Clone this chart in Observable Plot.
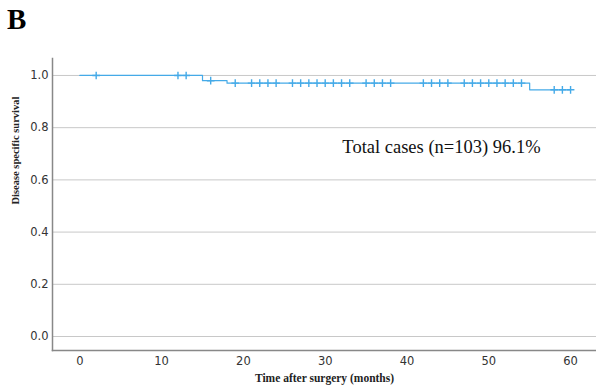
<!DOCTYPE html>
<html>
<head>
<meta charset="utf-8">
<script src="https://cdn.jsdelivr.net/npm/d3@7"></script>
<script src="https://cdn.jsdelivr.net/npm/@observablehq/plot@0.6"></script>
<style>
  html, body { margin: 0; padding: 0; background: #fff; }
  #wrap { position: relative; width: 596px; height: 392px; }
  #panel { position: absolute; left: 7px; top: 0px; font-family: "Liberation Serif", serif; font-weight: bold; font-size: 29px; line-height: 1; padding-top: 5px; color: #000; z-index: 2; }
</style>
</head>
<body>
<div id="wrap"><div id="panel">B</div></div>
<script>
// Kaplan-Meier step points (time in months, survival)
const stepTimes = [0, 15, 18, 55, 60];
const stepSurv  = [1.0, 0.980, 0.9705, 0.945, 0.945];

// Censored observations (time in months)
const censorTimes = [2, 12, 13, 16, 19, 21, 22, 23, 24, 26, 27, 28, 29, 30, 31, 32, 33, 35, 36, 37, 38, 42, 43, 44, 45, 47, 48, 49, 50, 51, 52, 53, 54, 58, 59, 60];

const xTicks = [0, 10, 20, 30, 40, 50, 60];
const yTicks = [0, 0.2, 0.4, 0.6, 0.8, 1.0];

const annotationText = ["Total cases (n=103) 96.1%"];
const annotationX = [32.1];
const annotationY = [0.724];

const steps = stepTimes.map((t, i) => ({t, s: stepSurv[i]}));
function survAt(t) {
  let s = stepSurv[0];
  for (let i = 0; i < stepTimes.length; i++) if (stepTimes[i] <= t) s = stepSurv[i];
  return s;
}
const censors = censorTimes.map(t => ({t, s: survAt(t)}));
const annots = annotationText.map((txt, i) => ({txt, x: annotationX[i], y: annotationY[i]}));

const blue = "#45aae8";

const chart = Plot.plot({
  width: 596,
  height: 392,
  marginLeft: 52,
  marginRight: 0,
  marginTop: 58,
  marginBottom: 42,
  style: {fontFamily: "'DejaVu Sans', sans-serif", fontSize: "11.5px", color: "#333", background: "white"},
  x: {domain: [-3.34, 63.17], ticks: xTicks, tickSize: 0, tickPadding: 5, label: null, tickFormat: d3.format("d")},
  y: {domain: [-0.0536, 1.065], ticks: yTicks, tickSize: 0, tickPadding: 4, label: null, tickFormat: d3.format(".1f")},
  marks: [
    Plot.gridY(yTicks, {stroke: "#c8c8c8", strokeOpacity: 1, strokeWidth: 1}),
    Plot.axisY({ticks: yTicks, tickSize: 0, tickPadding: 4, tickFormat: d3.format(".1f"), label: null, fontSize: 11.5}),
    Plot.axisX({ticks: xTicks, tickSize: 0, tickPadding: 6, label: null, fontSize: 11.5}),
    Plot.frame({anchor: "left", stroke: "#888", strokeWidth: 1.5}),
    Plot.frame({anchor: "bottom", stroke: "#888", strokeWidth: 1.5}),
    Plot.line(steps, {x: "t", y: "s", curve: "step-after", stroke: blue, strokeWidth: 1.2}),
    Plot.dot(censors, {x: "t", y: "s", symbol: "plus", r: 2.6, stroke: blue, strokeWidth: 1.4}),
    Plot.text(annots, {x: "x", y: "y", text: "txt", textAnchor: "start", fontFamily: "'Liberation Serif', serif", fontSize: 18.5, fill: "#111"}),
    Plot.text(["Time after surgery (months)"], {frameAnchor: "bottom", dy: 31, fontFamily: "'Liberation Serif', serif", fontWeight: "bold", fontSize: 11.5, fill: "#222"}),
    Plot.text(["Disease specific survival"], {frameAnchor: "left", dx: -37, rotate: -90, fontFamily: "'Liberation Serif', serif", fontWeight: "bold", fontSize: 10.5, fill: "#222"})
  ]
});
chart.style.position = "absolute";
chart.style.left = "0px";
chart.style.top = "0px";
document.getElementById("wrap").prepend(chart);
</script>
</body>
</html>
